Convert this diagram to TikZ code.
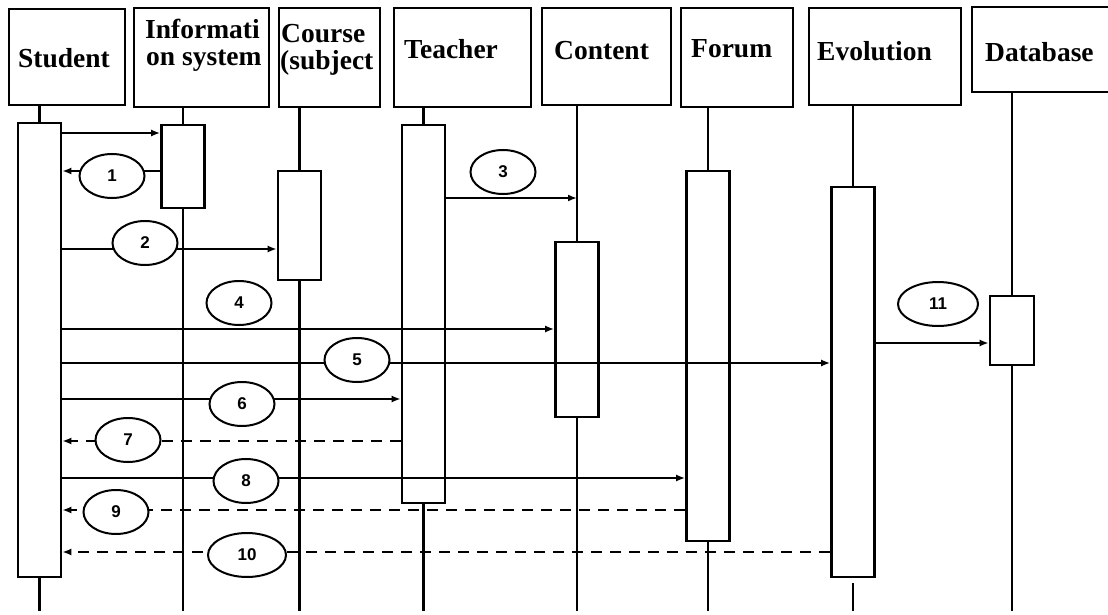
\documentclass[tikz,border=0pt]{standalone}
\usepackage{fontspec}
\setmainfont{Liberation Serif}
\newfontfamily\numfont{Liberation Sans}
\usetikzlibrary{shapes.geometric,arrows.meta}
\begin{document}
\begin{tikzpicture}[x=1pt,y=-1pt,
  hdr/.style={draw,line width=2.8pt,rectangle,inner sep=0pt},
  act/.style={draw,line width=2.6pt,rectangle,fill=white,inner sep=0pt,minimum width=43pt},
  life/.style={line width=2.5pt},
  hdrtxt/.style={anchor=base west,inner sep=0pt,font=\fontsize{27.5}{27.5}\selectfont\bfseries},
  msg/.style={line width=2pt,-{Latex[length=9pt,width=7pt]}},
  ret/.style={line width=2pt,dash pattern=on 11pt off 8pt,-{Latex[length=9pt,width=7pt]}},
  num/.style={draw,ellipse,line width=2pt,fill=white,minimum width=65pt,minimum height=44pt,inner sep=0pt,font=\numfont\bfseries\fontsize{17}{17}\selectfont}
]
\useasboundingbox (0,0) rectangle (1108,615);
\coordinate (bot) at (0,611);
% header boxes
\node[hdr,minimum width=116pt,minimum height=96pt] (hS) at (67,57) {};
\node[hdr,minimum width=135pt,minimum height=99pt] (hI) at (201.5,57.5) {};
\node[hdr,minimum width=101pt,minimum height=99pt] (hC) at (329.5,57.5) {};
\node[hdr,minimum width=137pt,minimum height=99pt] (hT) at (462.5,57.5) {};
\node[hdr,minimum width=129pt,minimum height=97pt] (hCo) at (606.5,56.5) {};
\node[hdr,minimum width=112pt,minimum height=99pt] (hF) at (737,57.5) {};
\node[hdr,minimum width=152pt,minimum height=97pt] (hE) at (885,56.5) {};
\node[hdr,minimum width=140pt,minimum height=85pt] (hD) at (1042,49.5) {};
% header texts
\node[hdrtxt] (tS) at (18,68) {Student};
\node[hdrtxt] (tI1) at (145,38.5) {Informati};
\node[hdrtxt] (tI2) at (146,66) {on system};
\node[hdrtxt] (tC1) at (281,43) {Course};
\node[hdrtxt] (tC2) at (280,70) {(subject};
\node[hdrtxt] (tT) at (404,59) {Teacher};
\node[hdrtxt] (tCo) at (554,60) {Content};
\node[hdrtxt] (tF) at (691,58) {Forum};
\node[hdrtxt] (tE) at (817,61) {Evolution};
\node[hdrtxt] (tD) at (985,62) {Database};
% activation boxes
\node[act,minimum height=454pt] (aS) at (39.5,350) {};
\node[act,minimum height=83pt] (aI) at (183,166.5) {};
\node[act,minimum height=109pt] (aC) at (299.5,225.5) {};
\node[act,minimum height=378pt] (aT) at (423.5,314) {};
\node[act,minimum height=175pt] (aCo) at (577,329.5) {};
\node[act,minimum height=370pt] (aF) at (708,356) {};
\node[act,minimum height=390pt] (aE) at (853,382) {};
\node[act,minimum width=44pt,minimum height=69pt] (aD) at (1012,330.5) {};
% lifelines
\foreach \a/\h in {aS/hS,aI/hI,aC/hC,aT/hT,aCo/hCo,aF/hF,aE/hE,aD/hD}{
  \draw[life] (\a.north |- \h.south) -- (\a.north);
}
\foreach \a in {aS,aI,aC,aT,aCo,aF,aD}{
  \draw[life] (\a.south) -- (\a.south |- bot);
}
\draw[life] ([yshift=-5pt]aE.south) -- (aE.south |- bot);
% message levels
\coordinate (y0) at (0,133);
\coordinate (y1) at (0,171);
\coordinate (y2) at (0,249);
\coordinate (y3) at (0,198);
\coordinate (y4) at (0,329);
\coordinate (y5) at (0,363);
\coordinate (y6) at (0,399);
\coordinate (y7) at (0,441);
\coordinate (y8) at (0,478);
\coordinate (y9) at (0,510);
\coordinate (y10) at (0,552);
\coordinate (y11) at (0,343);
% messages
\draw[msg] (aS.east |- y0) -- (aI.west |- y0);
\draw[msg] (aI.west |- y1) -- (aS.east |- y1);
\draw[msg] (aS.east |- y2) -- (aC.west |- y2);
\draw[msg] (aT.east |- y3) -- (aCo.north |- y3);
\draw[msg] (aS.east |- y4) -- (aCo.west |- y4);
\draw[msg] (aS.east |- y5) -- (aE.west |- y5);
\draw[msg] (aS.east |- y6) -- (aT.west |- y6);
\draw[ret] (aT.west |- y7) -- (aS.east |- y7);
\draw[msg] (aS.east |- y8) -- (aF.west |- y8);
\draw[ret] (aF.west |- y9) -- (aS.east |- y9);
\draw[ret] (aE.west |- y10) -- (aS.east |- y10);
\draw[msg] (aE.east |- y11) -- (aD.west |- y11);
% numbered ellipses
\node[num] (n1) at (112,176) {1};
\node[num] (n2) at (145,243) {2};
\node[num] (n3) at (503,172) {3};
\node[num] (n4) at (239,303) {4};
\node[num] (n5) at (357,360) {5};
\node[num] (n6) at (242,404) {6};
\node[num] (n7) at (128,440) {7};
\node[num] (n8) at (246,481) {8};
\node[num] (n9) at (116,512) {9};
\node[num,minimum width=78pt] (n10) at (247,555) {10};
\node[num,minimum width=80pt] (n11) at (938,304) {11};
\end{tikzpicture}
\end{document}
